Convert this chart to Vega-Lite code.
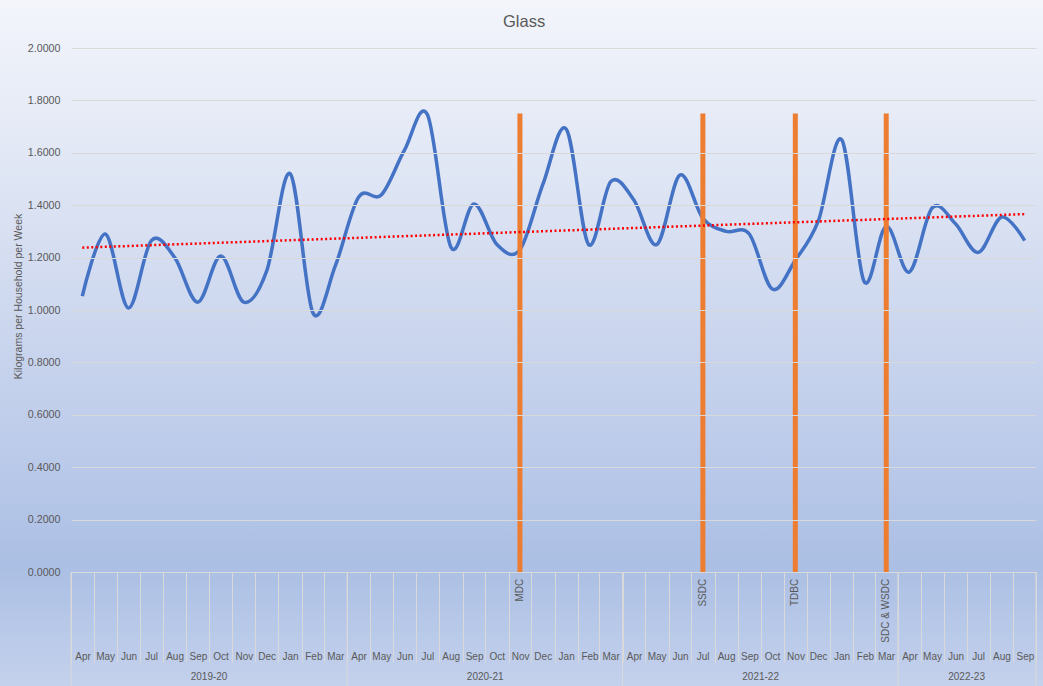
{
  "$schema": "https://vega.github.io/schema/vega-lite/v6.json",
  "width": 965,
  "height": 524,
  "autosize": {"type": "none"},
  "padding": {"left": 71, "top": 48, "right": 7, "bottom": 114},
  "background": "#dde4f3",
  "view": {"stroke": null},
  "title": {
    "text": "Glass",
    "fontSize": 16.5,
    "fontWeight": "normal",
    "color": "#595959",
    "anchor": "middle",
    "frame": "bounds",
    "offset": -30
  },
  "data": {
    "values": [
      {"month": "2019-04", "kg": 1.053},
      {"month": "2019-05", "kg": 1.29},
      {"month": "2019-06", "kg": 1.008},
      {"month": "2019-07", "kg": 1.265},
      {"month": "2019-08", "kg": 1.2},
      {"month": "2019-09", "kg": 1.03},
      {"month": "2019-10", "kg": 1.206},
      {"month": "2019-11", "kg": 1.03},
      {"month": "2019-12", "kg": 1.15},
      {"month": "2020-01", "kg": 1.52},
      {"month": "2020-02", "kg": 0.99},
      {"month": "2020-03", "kg": 1.17},
      {"month": "2020-04", "kg": 1.43},
      {"month": "2020-05", "kg": 1.44},
      {"month": "2020-06", "kg": 1.61},
      {"month": "2020-07", "kg": 1.745},
      {"month": "2020-08", "kg": 1.24},
      {"month": "2020-09", "kg": 1.405},
      {"month": "2020-10", "kg": 1.25},
      {"month": "2020-11", "kg": 1.23},
      {"month": "2020-12", "kg": 1.48},
      {"month": "2021-01", "kg": 1.69},
      {"month": "2021-02", "kg": 1.25},
      {"month": "2021-03", "kg": 1.49},
      {"month": "2021-04", "kg": 1.42},
      {"month": "2021-05", "kg": 1.25},
      {"month": "2021-06", "kg": 1.515},
      {"month": "2021-07", "kg": 1.35},
      {"month": "2021-08", "kg": 1.3},
      {"month": "2021-09", "kg": 1.29},
      {"month": "2021-10", "kg": 1.08},
      {"month": "2021-11", "kg": 1.19},
      {"month": "2021-12", "kg": 1.34},
      {"month": "2022-01", "kg": 1.65},
      {"month": "2022-02", "kg": 1.11},
      {"month": "2022-03", "kg": 1.32},
      {"month": "2022-04", "kg": 1.145},
      {"month": "2022-05", "kg": 1.39},
      {"month": "2022-06", "kg": 1.33},
      {"month": "2022-07", "kg": 1.22},
      {"month": "2022-08", "kg": 1.355},
      {"month": "2022-09", "kg": 1.265}
    ]
  },
  "layer": [
    {
      "data": {"values": [{}]},
      "mark": {"type": "rect", "fill": {
        "gradient": "linear", "x1": 0, "y1": 0, "x2": 0, "y2": 1,
        "stops": [
          {"offset": 0, "color": "#f3f5fb"},
          {"offset": 0.219, "color": "#e2e8f5"},
          {"offset": 0.437, "color": "#cfd9ef"},
          {"offset": 0.656, "color": "#bccbea"},
          {"offset": 0.824, "color": "#abbfe4"},
          {"offset": 1, "color": "#c4d1ec"}
        ]}},
      "encoding": {
        "x": {"datum": {"year": 2018, "month": 12, "date": 20, "utc": true}, "type": "temporal"},
        "x2": {"datum": {"year": 2022, "month": 10, "date": 25, "utc": true}},
        "y": {"datum": 2.1832, "type": "quantitative"},
        "y2": {"datum": -0.4351}
      }
    },
    {
      "mark": {"type": "line", "interpolate": "cardinal", "color": "#4472c4", "strokeWidth": 3.5},
      "encoding": {
        "x": {
          "field": "month", "timeUnit": "utcyearmonth", "type": "temporal", "bandPosition": 0.5,
          "scale": {"domain": [{"year": 2019, "month": 4, "date": 1, "utc": true}, {"year": 2022, "month": 10, "date": 1, "utc": true}]},
          "axis": {
            "title": null, "zindex": 1,
            "format": "%b", "tickCount": {"interval": "month", "step": 1},
            "tickSize": 90, "tickColor": "#d9d9d9", "tickWidth": 1,
            "domainColor": "#d9d9d9",
            "labelAngle": 0, "labelPadding": -11, "labelOffset": 11.5,
            "labelFlush": false, "labelOverlap": false, "labelBound": false,
            "labelFontSize": 10, "labelColor": "#595959", "grid": false,
            "labelExpr": "utcyear(datum.value) == 2022 && utcmonth(datum.value) == 9 ? '' : datum.label"
          }
        },
        "y": {
          "field": "kg", "type": "quantitative",
          "scale": {"domain": [0, 2], "nice": false},
          "axis": {
            "title": "Kilograms per Household per Week", "zindex": 1,
            "values": [0, 0.2, 0.4, 0.6, 0.8, 1.0, 1.2, 1.4, 1.6, 1.8, 2.0],
            "format": ".4f", "domain": false, "ticks": false,
            "labelPadding": 11, "labelFontSize": 10.7, "labelColor": "#595959",
            "grid": true, "gridColor": "#d9d9d9", "gridWidth": 1,
            "titleFontSize": 10.5, "titleFontWeight": "normal", "titleColor": "#595959",
            "titleX": -48, "titleY": 248
          }
        }
      }
    },
    {
      "data": {"values": [
        {"month": "2020-11", "kg": 1.75},
        {"month": "2021-07", "kg": 1.75},
        {"month": "2021-11", "kg": 1.75},
        {"month": "2022-03", "kg": 1.75}
      ]},
      "mark": {"type": "rule", "color": "#ed7d31", "strokeWidth": 5},
      "encoding": {
        "x": {"field": "month", "timeUnit": "utcyearmonth", "type": "temporal", "bandPosition": 0.5},
        "y": {"field": "kg", "type": "quantitative"},
        "y2": {"datum": 0}
      }
    },
    {
      "data": {"values": [
        {"month": "2019-04", "kg": 1.238},
        {"month": "2022-09", "kg": 1.366}
      ]},
      "mark": {"type": "line", "color": "#ff0000", "strokeWidth": 2.5, "strokeDash": [2, 2.5]},
      "encoding": {
        "x": {"field": "month", "timeUnit": "utcyearmonth", "type": "temporal", "bandPosition": 0.5},
        "y": {"field": "kg", "type": "quantitative"}
      }
    },
    {
      "data": {"values": [
        {"month": "2020-11", "label": "MDC"},
        {"month": "2021-07", "label": "SSDC"},
        {"month": "2021-11", "label": "TDBC"},
        {"month": "2022-03", "label": "SDC & WSDC"}
      ]},
      "mark": {"type": "text", "angle": 270, "align": "right", "baseline": "middle", "fontSize": 10, "color": "#595959"},
      "encoding": {
        "x": {"field": "month", "timeUnit": "utcyearmonth", "type": "temporal", "bandPosition": 0.5},
        "y": {"datum": -0.026, "type": "quantitative"},
        "text": {"field": "label"}
      }
    },
    {
      "data": {"values": [
        {"month": "2019-10", "fy": "2019-20"},
        {"month": "2020-10", "fy": "2020-21"},
        {"month": "2021-10", "fy": "2021-22"},
        {"month": "2022-07", "fy": "2022-23"}
      ]},
      "mark": {"type": "text", "align": "center", "baseline": "middle", "fontSize": 10, "color": "#595959"},
      "encoding": {
        "x": {"field": "month", "timeUnit": "utcyearmonth", "type": "temporal", "bandPosition": 0},
        "y": {"datum": -0.401, "type": "quantitative"},
        "text": {"field": "fy"}
      }
    },
    {
      "data": {"values": [
        {"month": "2019-04"},
        {"month": "2020-04"},
        {"month": "2021-04"},
        {"month": "2022-04"},
        {"month": "2022-10"}
      ]},
      "mark": {"type": "rule", "color": "#d9d9d9", "strokeWidth": 1},
      "encoding": {
        "x": {"field": "month", "timeUnit": "utcyearmonth", "type": "temporal", "bandPosition": 0},
        "y": {"datum": 0, "type": "quantitative"},
        "y2": {"datum": -0.4351}
      }
    }
  ],
  "config": {
    "font": "Liberation Sans"
  }
}
